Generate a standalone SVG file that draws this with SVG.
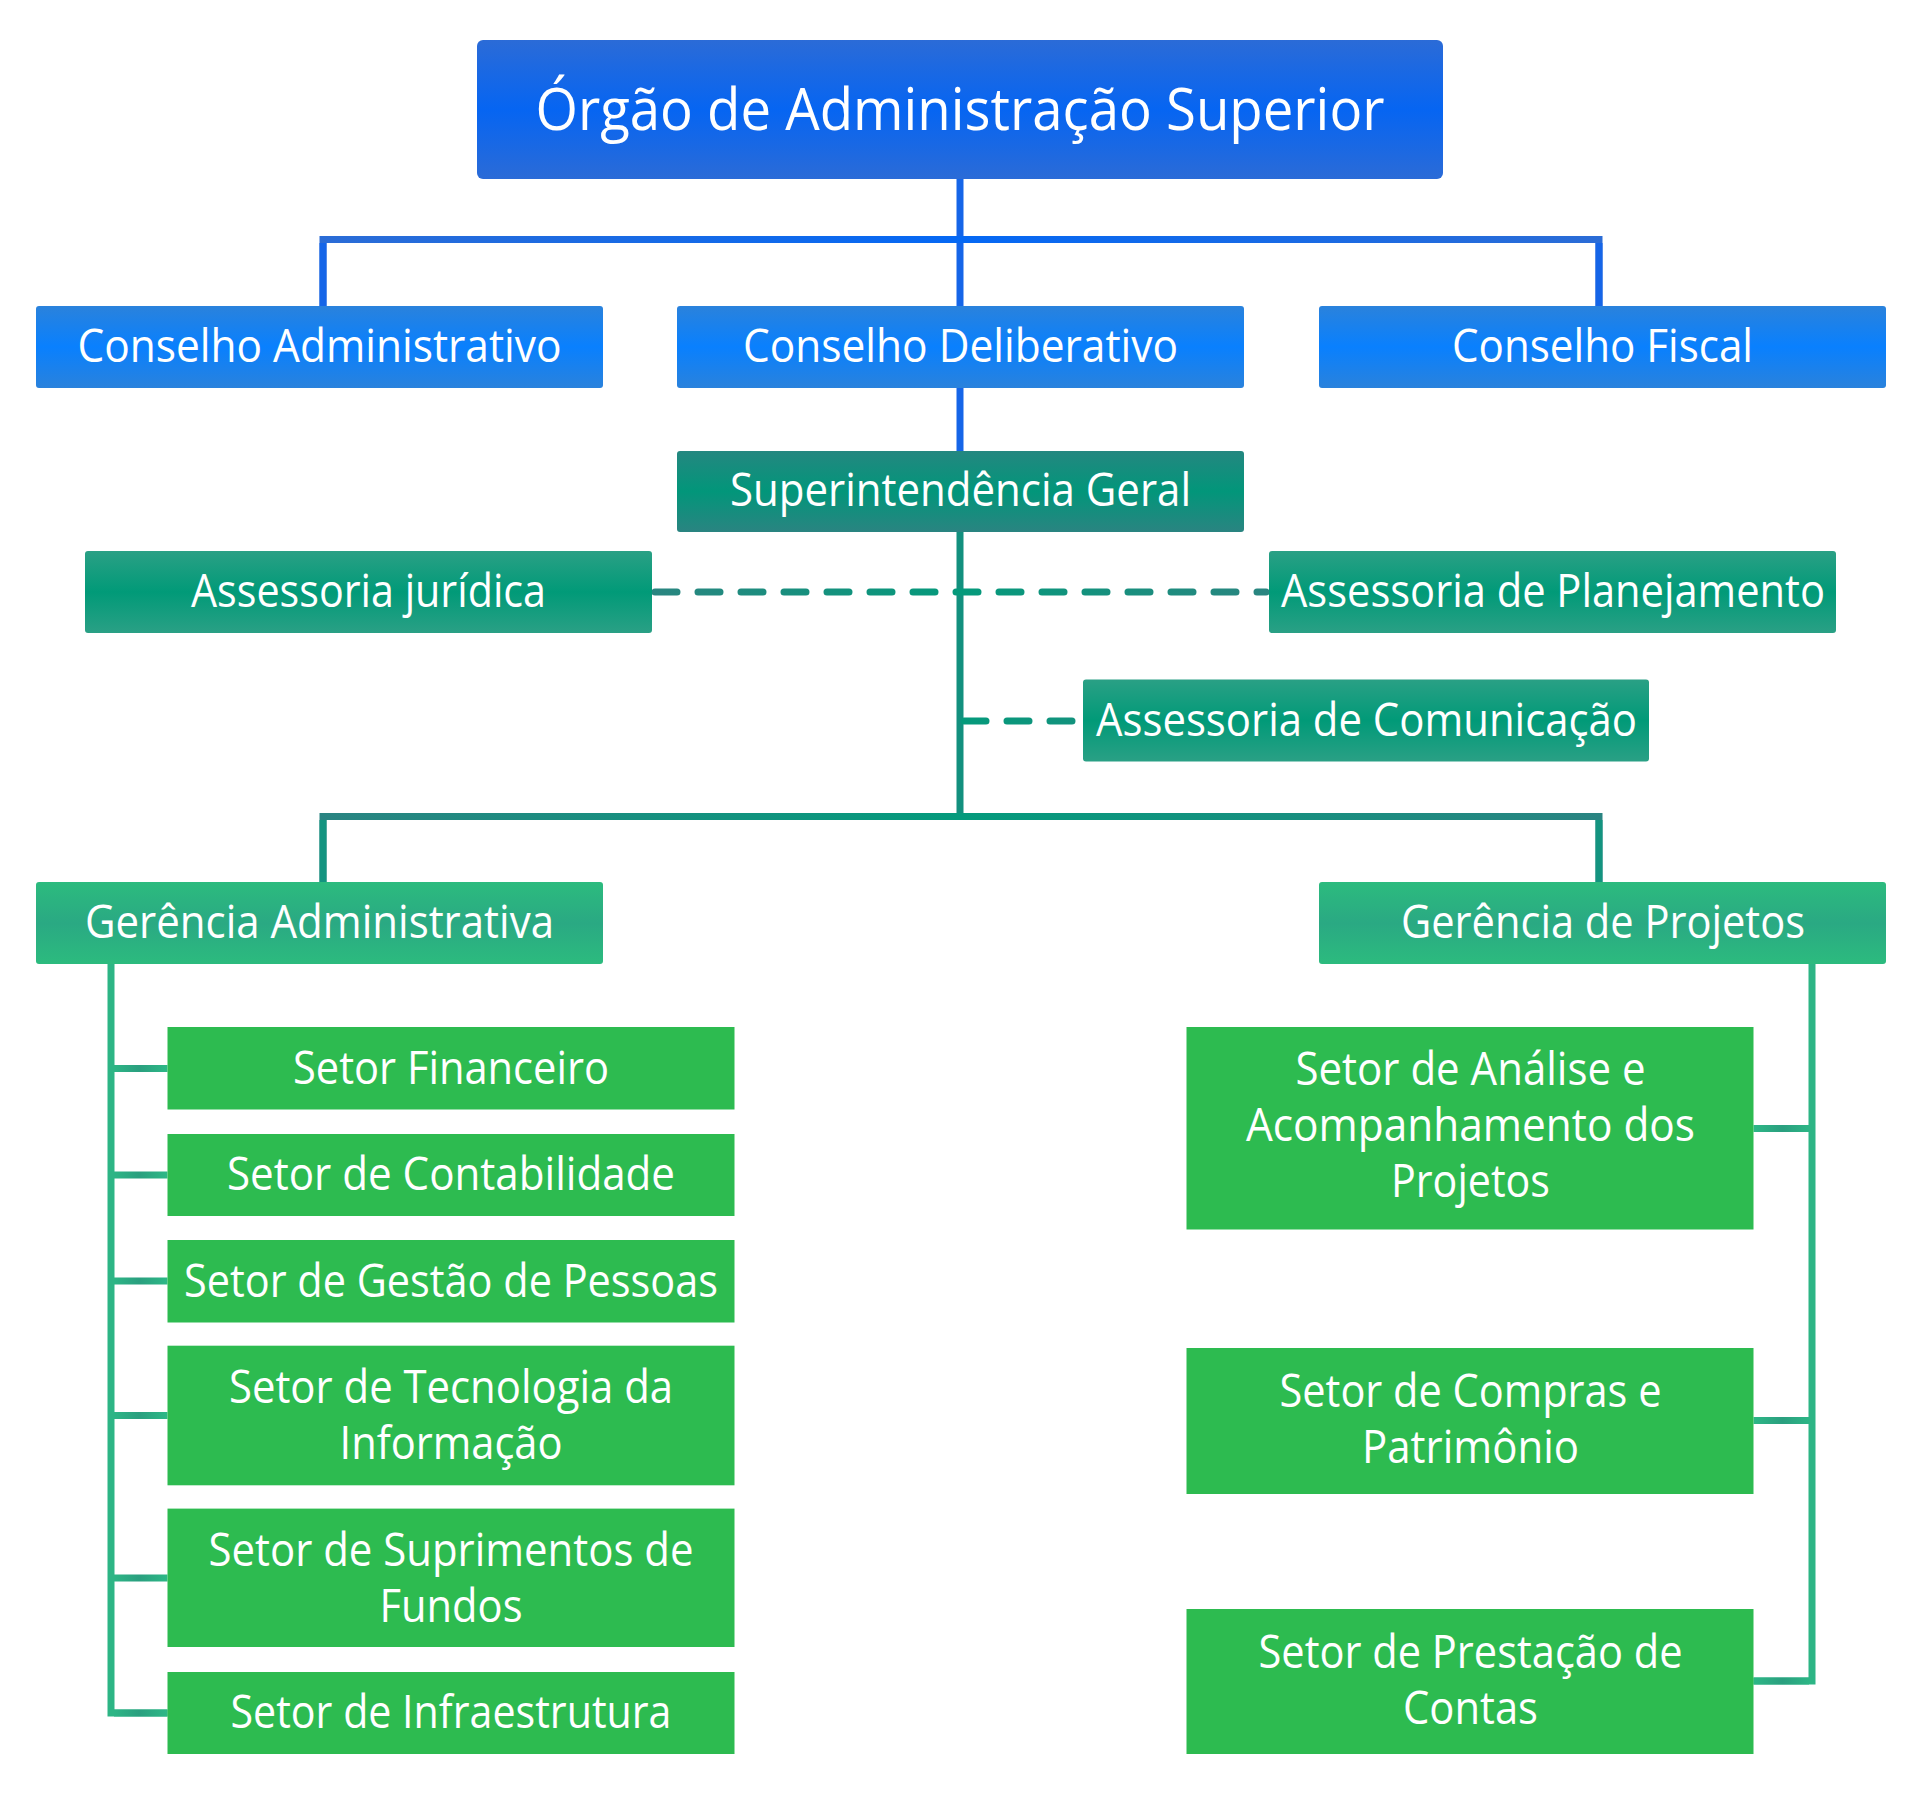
<svg xmlns="http://www.w3.org/2000/svg" width="1920" height="1796" viewBox="0 0 1920 1796">
  <defs>
    <linearGradient id="gTop" x1="0" y1="0" x2="0" y2="1">
      <stop offset="0" stop-color="#2b6bd7"/>
      <stop offset="0.5" stop-color="#0665f2"/>
      <stop offset="1" stop-color="#2b6bd7"/>
    </linearGradient>
    <linearGradient id="gCons" x1="0" y1="0" x2="0" y2="1">
      <stop offset="0" stop-color="#2a82dc"/>
      <stop offset="0.5" stop-color="#0980fe"/>
      <stop offset="1" stop-color="#2a82dc"/>
    </linearGradient>
    <linearGradient id="gSup" x1="0" y1="0" x2="0" y2="1">
      <stop offset="0" stop-color="#248780"/>
      <stop offset="0.5" stop-color="#02967a"/>
      <stop offset="1" stop-color="#2a8481"/>
    </linearGradient>
    <linearGradient id="gAss" x1="0" y1="0" x2="0" y2="1">
      <stop offset="0" stop-color="#2aa085"/>
      <stop offset="0.5" stop-color="#019a78"/>
      <stop offset="1" stop-color="#2aa085"/>
    </linearGradient>
    <linearGradient id="gGer" x1="0" y1="0" x2="0" y2="1">
      <stop offset="0" stop-color="#2cbb7e"/>
      <stop offset="0.5" stop-color="#2aa983"/>
      <stop offset="1" stop-color="#2cbb7e"/>
    </linearGradient>
    <linearGradient id="gBlueH" gradientUnits="userSpaceOnUse" x1="319" y1="0" x2="1603" y2="0">
      <stop offset="0" stop-color="#2b6cd6"/>
      <stop offset="0.5" stop-color="#0568f4"/>
      <stop offset="1" stop-color="#2b6cd6"/>
    </linearGradient>
    <linearGradient id="gTealH" gradientUnits="userSpaceOnUse" x1="319" y1="0" x2="1603" y2="0">
      <stop offset="0" stop-color="#2a8482"/>
      <stop offset="0.5" stop-color="#049a7c"/>
      <stop offset="1" stop-color="#2a8482"/>
    </linearGradient>
    <linearGradient id="gDash" gradientUnits="userSpaceOnUse" x1="652" y1="0" x2="1269" y2="0">
      <stop offset="0" stop-color="#2a8580"/>
      <stop offset="0.5" stop-color="#049a7b"/>
      <stop offset="1" stop-color="#2a8580"/>
    </linearGradient>
    <linearGradient id="gBranchL" gradientUnits="userSpaceOnUse" x1="111" y1="0" x2="167" y2="0">
      <stop offset="0" stop-color="#2db886"/>
      <stop offset="0.5" stop-color="#2a9f7f"/>
      <stop offset="1" stop-color="#2db886"/>
    </linearGradient>
    <linearGradient id="gBranchR" gradientUnits="userSpaceOnUse" x1="1753" y1="0" x2="1812" y2="0">
      <stop offset="0" stop-color="#2db886"/>
      <stop offset="0.5" stop-color="#2a9f7f"/>
      <stop offset="1" stop-color="#2db886"/>
    </linearGradient>
  </defs>
  <style>
    text { font-family: "Open Sans", "Noto Sans", "DejaVu Sans", sans-serif; fill: #ffffff; text-anchor: middle; font-size: 46px; }
    .big { font-size: 58px; }
    .ln { fill: none; stroke-width: 7; stroke-linejoin: miter; stroke-linecap: butt; }
    .blue { stroke: #1565e8; }
    .teal { stroke: #12907e; }
    .dash { fill: none; stroke: url(#gDash); stroke-width: 7; stroke-dasharray: 22 21; stroke-linecap: round; }
    .bus { fill: none; stroke: #2db585; stroke-width: 7; stroke-linejoin: miter; }
    .setor { fill: #2dbb50; }
  </style>
  <rect width="1920" height="1796" fill="#ffffff"/>

  <g id="connectors">
    <path class="ln blue" d="M960 179 V306"/>
    <path class="ln" stroke="url(#gBlueH)" d="M323 306 V239.5 H1599 V306"/>
    <path class="ln blue" d="M323 243 V306 M1599 243 V306"/>
    <path class="ln blue" d="M960 388 V451"/>
    <path class="ln teal" d="M960 532 V816.5"/>
    <path class="ln" stroke="url(#gTealH)" d="M323 882 V816.5 H1599 V882"/>
    <path class="ln" stroke="#139480" d="M323 820 V882 M1599 820 V882"/>
    <path class="dash" d="M655 592 H1266"/>
    <path class="dash" d="M964 721 H1080"/>
    <path class="bus" d="M111 964 V1713 H167.5"/>
    <path class="ln" stroke="url(#gBranchL)" d="M114 1068.5 H167.5 M114 1175 H167.5 M114 1281 H167.5 M114 1415.5 H167.5 M114 1578 H167.5 M114 1713 H167.5"/>
    <path class="bus" d="M1812 964 V1681 H1753.5"/>
    <path class="ln" stroke="url(#gBranchR)" d="M1753.5 1128.5 H1809 M1753.5 1420.5 H1809 M1753.5 1681 H1809"/>
  </g>

  <g id="n-orgao">
    <rect x="477" y="40" width="966" height="139" rx="6" fill="url(#gTop)"/>
    <text class="big" x="960" y="130" textLength="849" lengthAdjust="spacingAndGlyphs">Órgão de Administração Superior</text>
  </g>
  <g id="n-cons-adm">
    <rect x="36" y="306" width="567" height="82" rx="3" fill="url(#gCons)"/>
    <text x="319.5" y="362" textLength="484" lengthAdjust="spacingAndGlyphs">Conselho Administrativo</text>
  </g>
  <g id="n-cons-del">
    <rect x="677" y="306" width="567" height="82" rx="3" fill="url(#gCons)"/>
    <text x="960.5" y="362" textLength="435" lengthAdjust="spacingAndGlyphs">Conselho Deliberativo</text>
  </g>
  <g id="n-cons-fis">
    <rect x="1319" y="306" width="567" height="82" rx="3" fill="url(#gCons)"/>
    <text x="1602.5" y="362" textLength="301" lengthAdjust="spacingAndGlyphs">Conselho Fiscal</text>
  </g>
  <g id="n-sup">
    <rect x="677" y="451" width="567" height="81" rx="3" fill="url(#gSup)"/>
    <text x="960.5" y="506" textLength="461" lengthAdjust="spacingAndGlyphs">Superintendência Geral</text>
  </g>
  <g id="n-ass-jur">
    <rect x="85" y="551" width="567" height="82" rx="3" fill="url(#gAss)"/>
    <text x="368.5" y="607" textLength="355" lengthAdjust="spacingAndGlyphs">Assessoria jurídica</text>
  </g>
  <g id="n-ass-plan">
    <rect x="1269" y="551" width="567" height="82" rx="3" fill="url(#gAss)"/>
    <text x="1553" y="607" textLength="544" lengthAdjust="spacingAndGlyphs">Assessoria de Planejamento</text>
  </g>
  <g id="n-ass-com">
    <rect x="1083" y="679.5" width="566" height="82" rx="3" fill="url(#gAss)"/>
    <text x="1366.5" y="735.5" textLength="541" lengthAdjust="spacingAndGlyphs">Assessoria de Comunicação</text>
  </g>
  <g id="n-ger-adm">
    <rect x="36" y="882" width="567" height="82" rx="3" fill="url(#gGer)"/>
    <text x="319.5" y="938" textLength="469" lengthAdjust="spacingAndGlyphs">Gerência Administrativa</text>
  </g>
  <g id="n-ger-proj">
    <rect x="1319" y="882" width="567" height="82" rx="3" fill="url(#gGer)"/>
    <text x="1603" y="938" textLength="404" lengthAdjust="spacingAndGlyphs">Gerência de Projetos</text>
  </g>

  <g id="n-fin">
    <rect class="setor" x="167.5" y="1027" width="567" height="82.5"/>
    <text x="451" y="1083.5" textLength="316" lengthAdjust="spacingAndGlyphs">Setor Financeiro</text>
  </g>
  <g id="n-cont">
    <rect class="setor" x="167.5" y="1134" width="567" height="82"/>
    <text x="451" y="1190" textLength="448" lengthAdjust="spacingAndGlyphs">Setor de Contabilidade</text>
  </g>
  <g id="n-gest">
    <rect class="setor" x="167.5" y="1240" width="567" height="82.5"/>
    <text x="451" y="1296.5" textLength="534" lengthAdjust="spacingAndGlyphs">Setor de Gestão de Pessoas</text>
  </g>
  <g id="n-tec">
    <rect class="setor" x="167.5" y="1345.7" width="567" height="139.6"/>
    <text x="451" y="1403" textLength="444" lengthAdjust="spacingAndGlyphs">Setor de Tecnologia da</text>
    <text x="451" y="1459" textLength="223" lengthAdjust="spacingAndGlyphs">Informação</text>
  </g>
  <g id="n-sup-fund">
    <rect class="setor" x="167.5" y="1508.6" width="567" height="138.4"/>
    <text x="451" y="1566" textLength="485" lengthAdjust="spacingAndGlyphs">Setor de Suprimentos de</text>
    <text x="451" y="1622" textLength="143" lengthAdjust="spacingAndGlyphs">Fundos</text>
  </g>
  <g id="n-infra">
    <rect class="setor" x="167.5" y="1672" width="567" height="82"/>
    <text x="451" y="1728" textLength="441" lengthAdjust="spacingAndGlyphs">Setor de Infraestrutura</text>
  </g>

  <g id="n-analise">
    <rect class="setor" x="1186.5" y="1027" width="567" height="202.5"/>
    <text x="1470.5" y="1085" textLength="350" lengthAdjust="spacingAndGlyphs">Setor de Análise e</text>
    <text x="1470.5" y="1141" textLength="449" lengthAdjust="spacingAndGlyphs">Acompanhamento dos</text>
    <text x="1470.5" y="1197" textLength="159" lengthAdjust="spacingAndGlyphs">Projetos</text>
  </g>
  <g id="n-compras">
    <rect class="setor" x="1186.5" y="1348" width="567" height="146"/>
    <text x="1470.5" y="1407" textLength="382" lengthAdjust="spacingAndGlyphs">Setor de Compras e</text>
    <text x="1470.5" y="1463" textLength="217" lengthAdjust="spacingAndGlyphs">Patrimônio</text>
  </g>
  <g id="n-prest">
    <rect class="setor" x="1186.5" y="1609" width="567" height="145"/>
    <text x="1470.5" y="1668" textLength="424" lengthAdjust="spacingAndGlyphs">Setor de Prestação de</text>
    <text x="1470.5" y="1724" textLength="135" lengthAdjust="spacingAndGlyphs">Contas</text>
  </g>
</svg>
